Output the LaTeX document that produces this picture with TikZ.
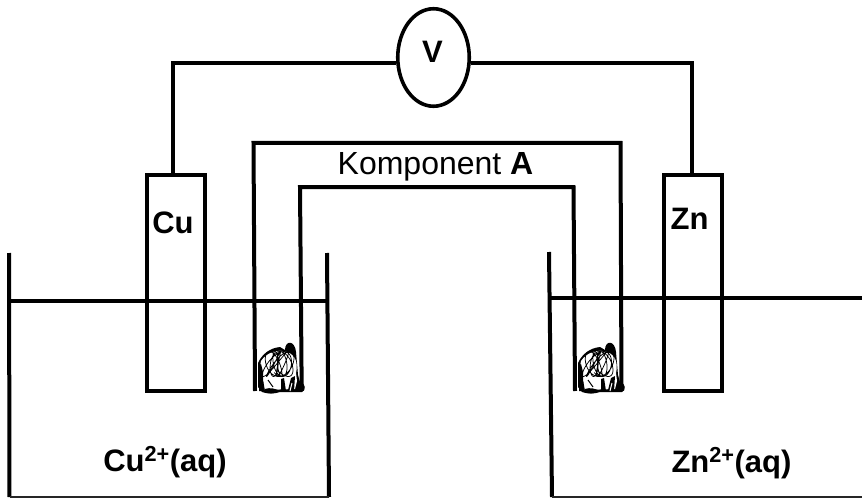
\documentclass[tikz,border=0pt]{standalone}
\usepackage{fontspec}
\setmainfont{Liberation Sans}
\usetikzlibrary{shapes.geometric}
\tikzset{
  x=1pt,y=-1pt,
  wire/.style={line width=4pt,line join=miter,black},
  lab/.style={font=\fontsize{31}{34}\selectfont\bfseries,inner sep=0pt,text=black,anchor=base},
  electrode/.style={draw=black,line width=4pt,rectangle,inner sep=0pt,minimum width=58pt,minimum height=216pt},
  plug/.pic={
    % silhouette: body, dome and lower-right bump
    \fill[black] (-20,-4) .. controls (-16,-13) and (-8,-19) .. (2,-20) -- (7,-17) .. controls (7,-27) and (17,-27) .. (18,-15) -- (20,8) -- (22,15) .. controls (28,16) and (28,24) .. (24,25) -- (2,25) .. controls (-4,27) and (-10,27) .. (-16,25) -- (-20,20) -- cycle;
    % white interior
    \fill[white] (-17,-6) .. controls (-11,-15) and (0,-18) .. (9,-15) .. controls (18,-12) and (20,-3) .. (18,6) -- (19,14) -- (17,22) -- (-14,23) -- (-15,12) -- (-19,4) -- cycle;
    % tangle
    \draw[line width=.75pt,black,line join=round] plot[domain=0:38,samples=300,variable=\t]
      ({16*sin(deg(\t))*cos(deg(\t*0.233))},{-3+12.5*sin(deg(\t*1.37+0.6))});
    % lower dark strokes
    \fill[black] (-19,-2) -- (-17,-3) -- (-15,5) -- (-15,13) -- (-13,24) -- (-19,24) -- cycle;
    \fill[black] (-13,22) .. controls (-8,20) and (-2,22) .. (2,24) .. controls (-3,27) and (-10,27) .. (-14,25) -- cycle;
    \fill[black] (3,12) -- (6,11) -- (8,24) -- (3,24) -- cycle;
    \fill[black] (13,11) -- (17,9) -- (16,24) -- (10,23) -- cycle;
    \draw[line width=1pt,white] (14,16) -- (12,24);
    \draw[line width=1pt,black] (-10,13) -- (-5,20);
  }
}
\begin{document}
\begin{tikzpicture}
\useasboundingbox (0,0) rectangle (862,500);
\fill[white] (0,0) rectangle (862,500);
% electrodes
\node[electrode] (cu) at (176,283) {};
\node[electrode] (zn) at (692.5,283) {};
\node[lab] (culab) at (173,233) {Cu};
\node[lab] (znlab) at (689.5,229) {Zn};
% voltmeter and wires
\node[draw=black,line width=3.6pt,ellipse,minimum width=71.5pt,minimum height=97.5pt,inner sep=0pt] (V) at (433.5,57.5) {};
\node[lab] (vlab) at (432.5,63) {V};
\coordinate (cutop) at (173,175);
\coordinate (zntop) at (692,175);
\coordinate (wl) at (173,63);
\coordinate (wr) at (692,63);
\draw[wire] (cutop) -- (wl) -- (V.west |- wl);
\draw[wire] (zntop) -- (wr) -- (V.east |- wr);
% salt bridge
\coordinate (oa) at (255,391);
\coordinate (ob) at (253.5,143);
\coordinate (oc) at (620.5,143);
\coordinate (od) at (621.5,391);
\coordinate (ia) at (301.7,391);
\coordinate (ib) at (300,187);
\coordinate (ic) at (573.5,187);
\coordinate (id) at (575,391);
\draw[wire] (oa) -- (ob) -- (oc) -- (od);
\draw[wire] (ia) -- (ib) -- (ic) -- (id);
\node[inner sep=0pt,anchor=base,font=\fontsize{32}{34}\selectfont,text=black] (komp) at (435.5,175) {Komponent \textbf{A}};
% left beaker
\coordinate (lbt) at (9,253);
\coordinate (lbb) at (9.5,497);
\coordinate (rbt) at (327,253);
\coordinate (rbb) at (329,497);
\draw[wire] (lbt) -- (lbb);
\draw[wire] (rbt) -- (rbb);
\draw[line width=1.6pt,black!85] (lbb) -- (rbb);
\coordinate (lwl) at (9,301);
\coordinate (lwr) at (327,301);
\draw[wire] (lwl) -- (lwr);
\node[lab] (culiq) at (165,471) {Cu\textsuperscript{2+}(aq)};
% right beaker
\coordinate (r2t) at (549,252);
\coordinate (r2b) at (552,497);
\coordinate (r3b) at (862,497);
\draw[wire] (r2t) -- (r2b);
\draw[line width=1.6pt,black!85] (r2b) -- (r3b);
\coordinate (rwl) at (549.5,298);
\coordinate (rwr) at (862,298);
\draw[wire] (rwl) -- (rwr);
\node[lab] (znliq) at (731.5,472) {Zn\textsuperscript{2+}(aq)};
% plugs
\pic at (278,367) {plug};
\pic at (598,367) {plug};
\end{tikzpicture}
\end{document}
